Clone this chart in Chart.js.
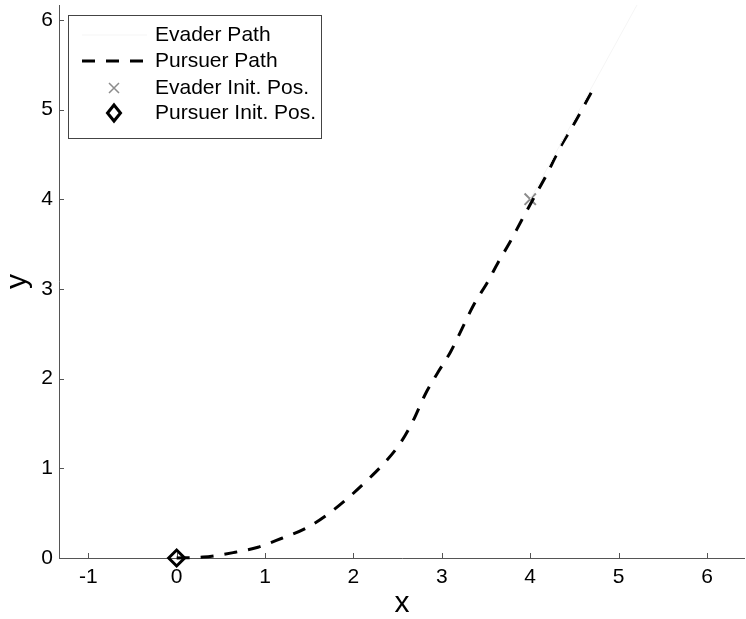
<!DOCTYPE html>
<html>
<head>
<meta charset="utf-8">
<script src="https://cdn.jsdelivr.net/npm/chart.js@4/dist/chart.umd.min.js"></script>
<style>
  html, body { margin: 0; padding: 0; background: #fff; }
  #chart { display: block; }
</style>
</head>
<body>
<canvas id="chart" width="746" height="619"></canvas>
<script>
/******************************************************
 * DATA
 ******************************************************/
const pursuerX = [0, 0.30, 0.64, 0.92, 1.19, 1.46, 1.70, 1.94, 2.16, 2.36, 2.53, 2.67, 2.81, 2.95,
  3.10, 3.23, 3.36, 3.52, 3.64, 3.77, 3.90, 4.05, 4.20, 4.34, 4.49, 4.63, 4.74];
const pursuerY = [0, 0.01, 0.06, 0.12, 0.22, 0.33, 0.48, 0.67, 0.87, 1.07, 1.28, 1.52, 1.82, 2.06,
  2.30, 2.56, 2.82, 3.08, 3.30, 3.52, 3.76, 4.03, 4.30, 4.58, 4.83, 5.08, 5.28];

const evaderX = [4, 5.3];
const evaderY = [4, 6.33];

const evaderStart = [4, 4];
const pursuerStart = [0, 0];

const xTicks = [-1, 0, 1, 2, 3, 4, 5, 6];
const yTicks = [0, 1, 2, 3, 4, 5, 6];

const legendLabels = ["Evader Path", "Pursuer Path", "Evader Init. Pos.", "Pursuer Init. Pos."];

const FONT = "'Liberation Sans', Arial, sans-serif";
const AXIS_COLOR = "#555";
const EVADER_LINE = "#f5f5f5";
const CROSS_COLOR = "#8c8c8c";
const DASH = [13, 11];

function toPoints(xs, ys) {
  return xs.map((x, i) => ({ x: x, y: ys[i] }));
}


/******************************************************
 * AXES (lines + inward ticks)
 ******************************************************/
const axisPlugin = {
  id: "matlabAxes",
  beforeDatasetsDraw(chart) {
    const ctx = chart.ctx;
    const area = chart.chartArea;
    const xs = chart.scales.x;
    const ys = chart.scales.y;

    ctx.save();
    ctx.strokeStyle = AXIS_COLOR;
    ctx.lineWidth = 1;
    ctx.beginPath();
    ctx.moveTo(area.left + 0.5, area.top);
    ctx.lineTo(area.left + 0.5, area.bottom + 0.5);
    ctx.lineTo(area.right, area.bottom + 0.5);

    xTicks.forEach(v => {
      const px = Math.round(xs.getPixelForValue(v)) + 0.5;
      ctx.moveTo(px, area.bottom);
      ctx.lineTo(px, area.bottom - 5);
    });
    yTicks.forEach(v => {
      const py = Math.round(ys.getPixelForValue(v)) + 0.5;
      ctx.moveTo(area.left, py);
      ctx.lineTo(area.left + 5, py);
    });
    ctx.stroke();
    ctx.restore();
  }
};


/******************************************************
 * LEGEND
 ******************************************************/
const legendPlugin = {
  id: "boxLegend",
  afterDraw(chart) {
    const ctx = chart.ctx;
    const box = { x: 68, y: 15, w: 253, h: 123 };
    const rows = [35, 61, 88, 113];
    const sampleL = 82;
    const sampleR = 147;
    const markX = 114;

    ctx.save();
    ctx.fillStyle = "#fff";
    ctx.fillRect(box.x, box.y, box.w, box.h);
    ctx.strokeStyle = "#444";
    ctx.lineWidth = 1;
    ctx.strokeRect(box.x + 0.5, box.y + 0.5, box.w, box.h);

    // evader path sample
    ctx.strokeStyle = EVADER_LINE;
    ctx.beginPath();
    ctx.moveTo(sampleL, rows[0]);
    ctx.lineTo(sampleR, rows[0]);
    ctx.stroke();

    // pursuer path sample
    ctx.strokeStyle = "#000";
    ctx.lineWidth = 3;
    ctx.setLineDash(DASH);
    ctx.beginPath();
    ctx.moveTo(sampleL, rows[1]);
    ctx.lineTo(sampleR, rows[1]);
    ctx.stroke();
    ctx.setLineDash([]);

    // evader marker
    ctx.strokeStyle = CROSS_COLOR;
    ctx.lineWidth = 1.5;
    ctx.beginPath();
    ctx.moveTo(markX - 5, rows[2] - 5);
    ctx.lineTo(markX + 5, rows[2] + 5);
    ctx.moveTo(markX + 5, rows[2] - 5);
    ctx.lineTo(markX - 5, rows[2] + 5);
    ctx.stroke();

    // pursuer marker
    ctx.strokeStyle = "#000";
    ctx.lineWidth = 3;
    ctx.beginPath();
    ctx.moveTo(markX, rows[3] - 8);
    ctx.lineTo(markX + 6.5, rows[3]);
    ctx.lineTo(markX, rows[3] + 8);
    ctx.lineTo(markX - 6.5, rows[3]);
    ctx.closePath();
    ctx.stroke();

    ctx.fillStyle = "#000";
    ctx.font = "21px " + FONT;
    ctx.textBaseline = "middle";
    ctx.textAlign = "left";
    legendLabels.forEach((t, i) => ctx.fillText(t, 155, rows[i]));
    ctx.restore();
  }
};


/******************************************************
 * CHART
 ******************************************************/
const ctx = document.getElementById("chart").getContext("2d");
new Chart(ctx, {
  type: "scatter",
  data: {
    datasets: [
      {
        label: legendLabels[0],
        data: toPoints(evaderX, evaderY),
        showLine: true,
        borderColor: EVADER_LINE,
        borderWidth: 1,
        pointRadius: 0
      },
      {
        label: legendLabels[1],
        data: toPoints(pursuerX, pursuerY),
        showLine: true,
        borderColor: "#000",
        borderWidth: 3,
        borderDash: DASH,
        cubicInterpolationMode: "monotone",
        pointRadius: 0,
        clip: false
      },
      {
        label: legendLabels[2],
        data: [{ x: evaderStart[0], y: evaderStart[1] }],
        pointStyle: "crossRot",
        pointRadius: 8,
        borderColor: CROSS_COLOR,
        borderWidth: 2,
        clip: false
      },
      {
        label: legendLabels[3],
        data: [{ x: pursuerStart[0], y: pursuerStart[1] }],
        pointStyle: "rectRot",
        pointRadius: 8,
        backgroundColor: "rgba(255,255,255,0)",
        borderColor: "#000",
        borderWidth: 3,
        clip: false
      }
    ]
  },
  options: {
    responsive: false,
    animation: false,
    events: [],
    layout: { autoPadding: false, padding: { top: 5, right: 1, left: 0, bottom: 0 } },
    plugins: {
      legend: { display: false },
      tooltip: { enabled: false }
    },
    scales: {
      x: {
        type: "linear",
        min: -1.331,
        max: 6.43,
        afterBuildTicks: scale => { scale.ticks = xTicks.map(v => ({ value: v })); },
        afterFit: scale => {
          scale.height = 61;
          scale.paddingLeft = 0;
          scale.paddingRight = 0;
        },
        grid: { display: false, drawTicks: false },
        border: { display: false },
        ticks: { color: "#000", padding: 7, font: { family: FONT, size: 21 } },
        title: {
          display: true,
          text: "x",
          color: "#000",
          padding: { top: 0, bottom: 0 },
          font: { family: FONT, size: 30, lineHeight: 1 }
        }
      },
      y: {
        type: "linear",
        min: 0,
        max: 6.165,
        afterBuildTicks: scale => { scale.ticks = yTicks.map(v => ({ value: v })); },
        afterFit: scale => {
          scale.width = 59;
          scale.paddingTop = 0;
          scale.paddingBottom = 0;
        },
        grid: { display: false, drawTicks: false },
        border: { display: false },
        ticks: { color: "#000", padding: 6, font: { family: FONT, size: 21 } },
        title: {
          display: true,
          text: "y",
          color: "#000",
          padding: { top: 3, bottom: 0 },
          font: { family: FONT, size: 30, lineHeight: 1 }
        }
      }
    }
  },
  plugins: [axisPlugin, legendPlugin]
});
</script>
</body>
</html>
